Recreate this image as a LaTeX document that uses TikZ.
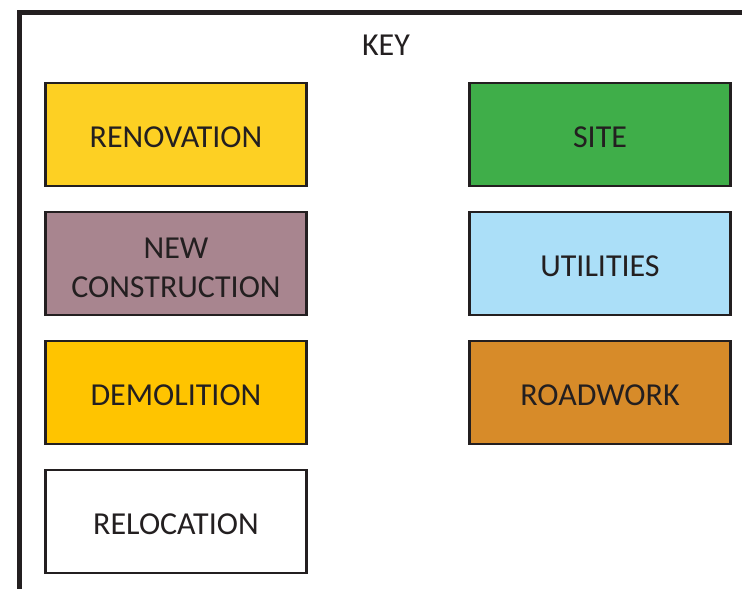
\documentclass[tikz,border=0pt]{standalone}
\usepackage{fontspec}
\setmainfont{Carlito}
\definecolor{ink}{HTML}{231F20}
\definecolor{renov}{HTML}{FDD023}
\definecolor{newc}{HTML}{A8858F}
\definecolor{demol}{HTML}{FFC400}
\definecolor{site}{HTML}{3FAE49}
\definecolor{util}{HTML}{ABDFF8}
\definecolor{road}{HTML}{D78B29}
\tikzset{
  keybox/.style={draw=ink, line width=2.6pt, minimum width=261pt, minimum height=103pt,
    inner sep=0pt, align=center, text=ink, font=\fontsize{32}{39}\selectfont},
  keytext/.style={text=ink, align=center, font=\fontsize{32}{39}\selectfont},
}
\begin{document}
\begin{tikzpicture}[x=1pt,y=-1pt]
\useasboundingbox (0,0) rectangle (742,589);
\begin{scope}
\clip (0,0) rectangle (742,589);
\draw[ink, line width=5pt] (19.5,600) -- (19.5,12) -- (760,12);
\end{scope}
\node[keytext] (key) at (386,45) {KEY};
\node[keybox, fill=renov] (renovation) at (176,134.5) {};
\node[keybox, fill=newc] (newcons) at (176,263.5) {};
\node[keybox, fill=demol] (demolition) at (176,392.5) {};
\node[keybox, fill=white] (relocation) at (176,521.5) {};
\node[keybox, fill=site] (site) at (600,134.5) {};
\node[keybox, fill=util] (utilities) at (600,263.5) {};
\node[keybox, fill=road] (roadwork) at (600,392.5) {};
\node[keytext] at ([yshift=-2.5pt]renovation.center) {RENOVATION};
\node[keytext] at ([yshift=-4.5pt]newcons.center) {NEW\\CONSTRUCTION};
\node[keytext] at ([yshift=-2.5pt]demolition.center) {DEMOLITION};
\node[keytext] at ([yshift=-2.5pt]relocation.center) {RELOCATION};
\node[keytext] at ([yshift=-2.5pt]site.center) {SITE};
\node[keytext] at ([yshift=-2.5pt]utilities.center) {UTILITIES};
\node[keytext] at ([yshift=-2.5pt]roadwork.center) {ROADWORK};
\end{tikzpicture}
\end{document}
